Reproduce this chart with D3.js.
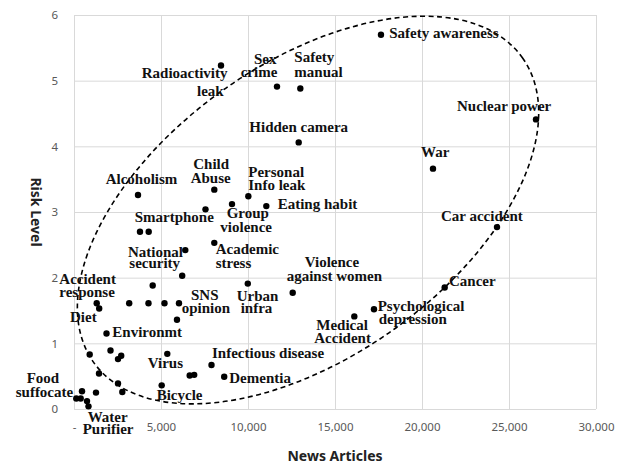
<!DOCTYPE html>
<html><head><meta charset="utf-8">
<script src="https://cdn.jsdelivr.net/npm/d3@7"></script>
<style>
html,body{margin:0;padding:0;background:#fff;}
svg{display:block;}
</style></head>
<body>
<svg id="chart" width="623" height="465"></svg>
<script>
// ---- data ----
const newsArticles = [8448,11666,13007,17643,26551,12913,20632,3678,8064,10019,11053,9080,7557,24310,3793,4293,8063,6396,6218,4523,9988,12569,21303,17241,16110,1305,1448,3172,4281,5201,6034,5919,1868,902,2098,2713,2529,5362,7902,1437,2529,2776,1264,460,132,385,747,833,5040,6649,6908,8632];
const riskLevel    = [5.23,4.91,4.88,5.70,4.41,4.06,3.66,3.26,3.34,3.24,3.09,3.12,3.04,2.77,2.70,2.70,2.53,2.42,2.03,1.88,1.91,1.77,1.85,1.52,1.41,1.61,1.53,1.61,1.61,1.61,1.61,1.36,1.15,0.83,0.89,0.81,0.76,0.84,0.67,0.54,0.39,0.26,0.25,0.27,0.16,0.16,0.12,0.04,0.36,0.51,0.52,0.49];

// label lines: text, anchor in data units (news articles, risk level)
const labelText = ["Radioactivity","leak","Sex","crime","Safety","manual","Hidden camera","Alcoholism","Child","Abuse","Personal","Info leak","Eating habit","Group","violence","Smartphone","Safety awareness","Nuclear power","War","Car accident","Violence","against women","Cancer","Psychological","depression","Medical","Accident","National","security","Academic","stress","Accident","response","SNS","opinion","Urban","infra","Diet","Environmt","Infectious disease","Virus","Food","suffocate","Dementia","Bicycle","Water","Purifier"];
const labelX = [3891,7069,10345,9580,12661,12661,10075,1822,6856,6707,10017,10017,11707,8776,8408,3488,18120,22011,19942,21091,13258,12224,21551,17454,17511,13925,13810,3103,3178,8143,8143,-845,-845,6724,6190,9350,9580,-230,2201,7931,4236,-2718,-3350,8925,4753,787,500];
const labelY = [5.048,4.774,5.249,5.051,5.284,5.051,4.213,3.431,3.650,3.437,3.537,3.335,3.046,2.904,2.691,2.852,5.645,4.538,3.842,2.867,2.167,1.949,1.878,1.492,1.299,1.198,1.000,2.319,2.147,2.356,2.152,1.903,1.710,1.660,1.457,1.649,1.457,1.325,1.092,0.772,0.629,0.391,0.187,0.391,0.137,-0.193,-0.385];

const xTickValues = [0,5000,10000,15000,20000,25000,30000];
const xTickLabels = ["-","5,000","10,000","15,000","20,000","25,000","30,000"];
const yTickValues = [0,1,2,3,4,5,6];
const yTickLabels = ["0","1","2","3","4","5","6"];

// ellipse annotation (center in data units)
const ellipseCenter = [13450, 3.03];

// ---- drawing ----
const svg = d3.select("#chart");
const x = d3.scaleLinear().domain([0,30000]).range([74,596]);
const y = d3.scaleLinear().domain([0,6]).range([409,15]);

const grid = svg.append("g");
grid.selectAll("line.v").data(xTickValues).join("line")
  .attr("x1", d=>x(d)+0.5).attr("x2", d=>x(d)+0.5)
  .attr("y1", y(6)).attr("y2", y(0))
  .attr("stroke","#d9d9d9").attr("stroke-width",1);
grid.selectAll("line.h").data(yTickValues).join("line")
  .attr("x1", x(0)).attr("x2", x(30000))
  .attr("y1", d=>y(d)+0.5).attr("y2", d=>y(d)+0.5)
  .attr("stroke","#d9d9d9").attr("stroke-width",1);

// axes (tick labels only)
const xAxis = d3.axisBottom(x).tickValues(xTickValues)
  .tickFormat((d,i)=>xTickLabels[i]).tickSize(0).tickPadding(14);
const gx = svg.append("g").attr("transform",`translate(0,${y(0)})`).call(xAxis);
gx.select(".domain").remove();
gx.selectAll("text").attr("fill","#595959").style("font-family","'Noto Sans', sans-serif").style("font-size","11.5px");

const yAxis = d3.axisLeft(y).tickValues(yTickValues)
  .tickFormat((d,i)=>yTickLabels[i]).tickSize(0).tickPadding(16);
const gy = svg.append("g").attr("transform",`translate(${x(0)},0)`).call(yAxis);
gy.select(".domain").remove();
gy.selectAll("text").attr("fill","#595959").style("font-family","'Noto Sans', sans-serif").style("font-size","11.5px");

// ellipse
const [ecx, ecy] = [x(ellipseCenter[0]), y(ellipseCenter[1])];
svg.append("ellipse")
  .attr("cx",0).attr("cy",0).attr("rx",263).attr("ry",147)
  .attr("transform",`translate(${ecx},${ecy}) rotate(-35.4)`)
  .attr("fill","none").attr("stroke","#000").attr("stroke-width",1.6)
  .attr("stroke-dasharray","5,3.5");

// points
svg.append("g").selectAll("circle").data(newsArticles).join("circle")
  .attr("cx",(d)=>x(d)).attr("cy",(d,i)=>y(riskLevel[i])).attr("r",3.2).attr("fill","#000");

// labels
svg.append("g").selectAll("text").data(labelText).join("text")
  .attr("x",(d,i)=>x(labelX[i])).attr("y",(d,i)=>y(labelY[i]))
  .text(d=>d)
  .style("font-family","'Liberation Serif','Times New Roman',serif")
  .style("font-weight","bold").style("font-size","15px").attr("fill","#111");

// axis titles
svg.append("text").attr("x",335).attr("y",461).attr("text-anchor","middle")
  .style("font-family","'Noto Sans', sans-serif").style("font-weight","bold").style("font-size","14px")
  .attr("fill","#222").text("News Articles");
svg.append("text").attr("transform",`translate(31,212) rotate(90)`).attr("text-anchor","middle")
  .style("font-family","'Noto Sans', sans-serif").style("font-weight","bold").style("font-size","14px")
  .attr("fill","#222").text("Risk Level");
</script>
</body></html>
